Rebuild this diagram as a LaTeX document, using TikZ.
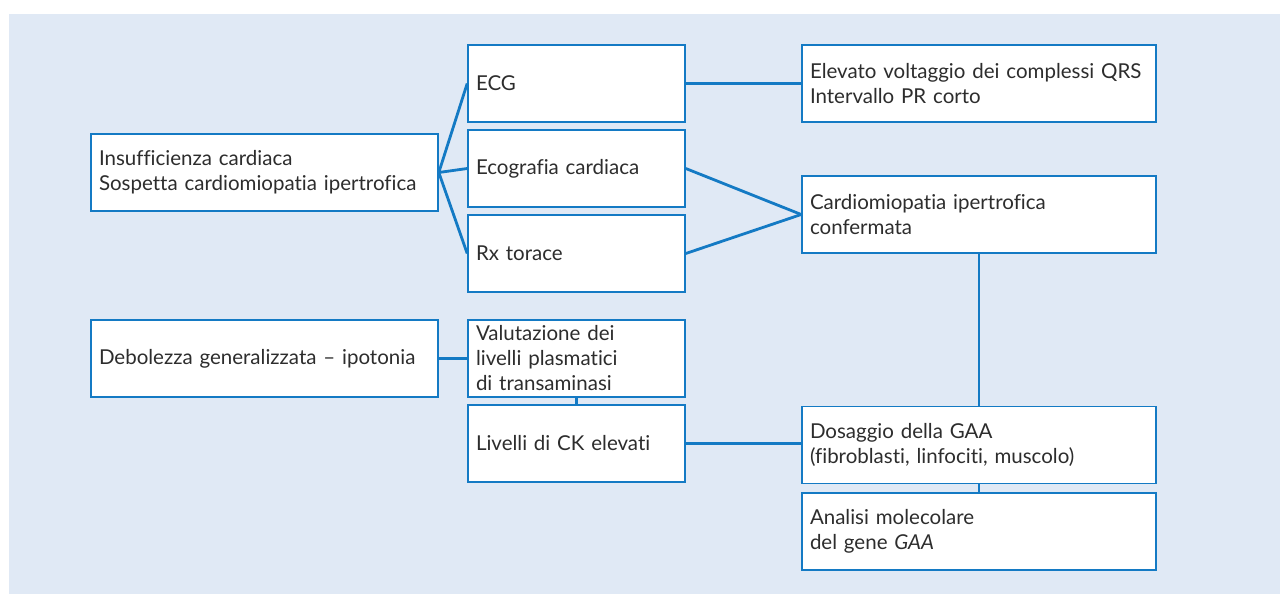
\documentclass[tikz,border=0pt]{standalone}
\usepackage{fontspec}
\setmainfont{Lato}[Ligatures=NoCommon]
\definecolor{bgblue}{RGB}{224,233,245}
\definecolor{lineblue}{RGB}{20,122,196}
\definecolor{txtgray}{RGB}{45,45,45}
\begin{document}
\begin{tikzpicture}[x=1pt, y=-1pt]
\tikzset{
	box/.style = {
		draw=lineblue, fill=white, line width=1.6pt,
		align=left, inner xsep=8pt, inner ysep=0pt,
		minimum height=77pt, text=txtgray,
		font=\fontsize{20.5}{25}\selectfont
	},
	narrow/.style={
		text width=201pt
	},
	wide/.style={
		text width=331pt
	},
	wider/.style={
		text width=338pt
	},
	link/.style={
		draw=lineblue, line width=2.8pt
	},
}

% background
\fill[bgblue] (9,14) rectangle (1280,594);
\useasboundingbox (0,0) rectangle (1280,594);

% left column
\node [box, wide] (ins) at (264.5, 172.5) {Insufficienza cardiaca\\Sospetta cardiomiopatia ipertrofica};
\node [box, wide] (deb) at (264.5, 358.5) {Debolezza generalizzata -- ipotonia};

% middle column
\node [box, narrow] (ecg) at (576.5, 83.5) {ECG};
\node [box, narrow] (eco) at (576.5, 168.5) {Ecografia cardiaca};
\node [box, narrow] (rx) at (576.5, 253.5) {Rx torace};
\node [box, narrow] (val) at (576.5, 358.5) {Valutazione dei\\livelli plasmatici\\di transaminasi};
\node [box, narrow] (ck) at (576.5, 443.5) {Livelli di CK elevati};

% right column
\node [box, wider] (qrs) at (979, 83.5) {Elevato voltaggio dei complessi QRS\\Intervallo PR corto};
\node [box, wider] (conf) at (979, 214.5) {Cardiomiopatia ipertrofica\\confermata};
\node [box, wider] (gaa) at (979, 445) {Dosaggio della GAA\\(fibroblasti, linfociti, muscolo)};
\node [box, wider] (mol) at (979, 531.5) {Analisi molecolare\\del gene \textit{GAA}};

% attach them
\foreach \t in {ecg, eco, rx}{
  \path[link] (ins.east) -- (\t.west);
}
\path[link] (ecg.east) -- (qrs.west);
\path[link] (eco.east) -- (conf.west);
\path[link] (rx.east) -- (conf.west);
\path[link] (conf.south) -- (gaa.north);
\path[link] (deb.east) -- (val.west);
\path[link] (val.south) -- (ck.north);
\path[link] (ck.east) -- (ck.east -| gaa.west);
\path[link] (gaa.south) -- (mol.north);

\end{tikzpicture}
\end{document}
